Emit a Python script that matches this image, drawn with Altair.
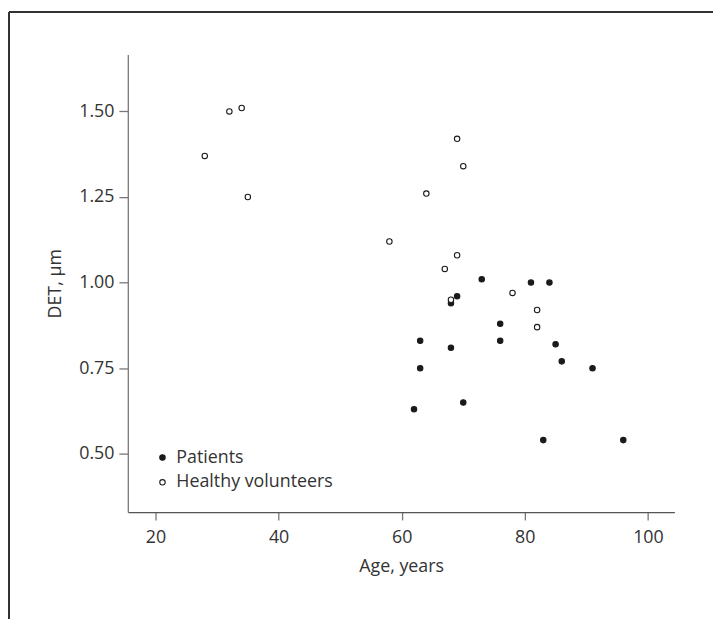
import altair as alt
import pandas as pd

patients_age = [73, 81, 84, 69, 68, 76, 76, 68, 85, 86, 91, 70, 83, 96, 63, 63, 62]
patients_det = [1.01, 1.00, 1.00, 0.96, 0.94, 0.88, 0.83, 0.81, 0.82, 0.77, 0.75, 0.65, 0.54, 0.54, 0.83, 0.75, 0.63]
healthy_age = [32, 34, 28, 35, 69, 70, 64, 58, 69, 67, 68, 78, 82, 82]
healthy_det = [1.50, 1.51, 1.37, 1.25, 1.42, 1.34, 1.26, 1.12, 1.08, 1.04, 0.95, 0.97, 0.92, 0.87]
group_names = ["Patients", "Healthy volunteers"]
x_ticks = [20, 40, 60, 80, 100]
y_ticks = [0.50, 0.75, 1.00, 1.25, 1.50]

df = pd.DataFrame({
    "age": patients_age + healthy_age,
    "det": patients_det + healthy_det,
    "group": [group_names[0]] * len(patients_age) + [group_names[1]] * len(healthy_age),
})

FONT = "Open Sans"
TXT = "#333333"

points = alt.Chart(df).mark_point(
    shape="circle", filled=False, size=30, strokeWidth=1.1, stroke="#1a1a1a", opacity=1
).encode(
    x=alt.X("age:Q", title="Age, years",
            scale=alt.Scale(domain=[15.5, 104.3], nice=False, zero=False),
            axis=alt.Axis(values=x_ticks, format="d", grid=False, tickSize=8,
                          labelPadding=9, titlePadding=11,
                          domainColor="#555555", tickColor="#777777", domainWidth=1.3, tickWidth=1.3)),
    y=alt.Y("det:Q", title="DET, µm",
            scale=alt.Scale(domain=[0.33, 1.666], nice=False, zero=False),
            axis=alt.Axis(values=y_ticks, format=".2f", grid=False, tickSize=9,
                          labelPadding=5, titlePadding=14,
                          domainColor="#777777", tickColor="#777777", domainWidth=1.3, tickWidth=1.3)),
    fill=alt.Fill("group:N",
                  scale=alt.Scale(domain=group_names, range=["#1a1a1a", "#ffffff"]),
                  legend=alt.Legend(title=None, orient="none", legendX=26, legendY=398,
                                    symbolType="circle", symbolSize=30,
                                    symbolStrokeColor="#1a1a1a", symbolStrokeWidth=1.1,
                                    labelFontSize=18, labelFont=FONT, labelColor=TXT,
                                    labelOffset=5, rowPadding=7, padding=0)),
)

frame_v = alt.Chart(df).mark_rule(color="#333333", strokeWidth=1.6).encode(
    x=alt.value(-120), y=alt.value(-43), y2=alt.value(575)
)
frame_h = alt.Chart(df).mark_rule(color="#333333", strokeWidth=1.6).encode(
    y=alt.value(-43), x=alt.value(-120), x2=alt.value(600)
)

chart = alt.layer(frame_v, frame_h, points).properties(
    width=552, height=462,
    background="white",
    autosize=alt.AutoSizeParams(type="none"),
    padding={"left": 121, "top": 44, "right": 39, "bottom": 105},
).configure_view(stroke=None).configure_axis(
    labelFont=FONT, titleFont=FONT, labelFontSize=18, titleFontSize=18,
    labelColor=TXT, titleColor=TXT, titleFontWeight="normal",
)

chart.save("out.html", embed_options={"renderer": "svg", "actions": False})
